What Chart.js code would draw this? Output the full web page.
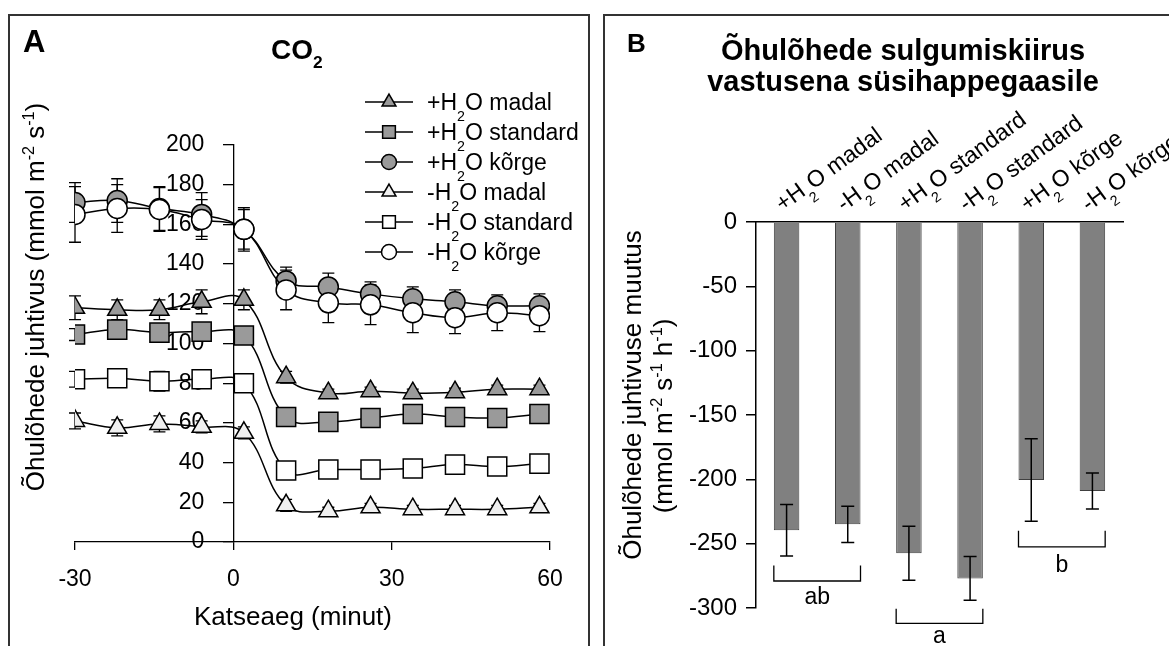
<!DOCTYPE html>
<html>
<head>
<meta charset="utf-8">
<title>Õhulõhede juhtivus</title>
<script src="https://cdn.jsdelivr.net/npm/chart.js@4.4.1/dist/chart.umd.min.js"></script>
<style>
  body { margin: 0; background: #fff; }
  #page { position: relative; width: 1169px; height: 646px; overflow: hidden; background: #fff; }
  canvas { position: absolute; top: 0; }
  .frame { position: absolute; border: 2px solid #333; border-bottom: none; pointer-events: none; }
</style>
</head>
<body>
<div id="page">
  <canvas id="panelA" width="598" height="646" style="left:0"></canvas>
  <canvas id="panelB" width="571" height="646" style="left:598px"></canvas>
  <div class="frame" style="left:8px;top:14px;width:578px;height:700px"></div>
  <div class="frame" style="left:603px;top:14px;width:700px;height:700px;border-right:none"></div>
</div>
<script>
// ---- panel A: conductance over time ----
const minutes = [-30, -22, -14, -6, 2, 10, 18, 26, 34, 42, 50, 58];
const seriesNames = ['+H2O madal', '+H2O standard', '+H2O kõrge', '-H2O madal', '-H2O standard', '-H2O kõrge'];

const plusLow = [118, 117, 117, 121, 122, 83, 75, 76, 75, 75.5, 77, 77];
const plusStd = [104.5, 107, 105.5, 106, 104, 63, 60.5, 62.5, 64.5, 63, 62.5, 64.5];
const plusHigh = [171, 172, 168, 165, 157.5, 131.5, 128.5, 125, 122.5, 121, 119, 119];
const minusLow = [61, 57.5, 59.5, 58, 55, 18.5, 15.5, 17.5, 16.5, 16.5, 16.5, 17.5];
const minusStd = [82, 82.5, 81, 82, 80, 36, 36.5, 36.5, 37, 39, 38, 39.5];
const minusHigh = [165, 168, 167.5, 162.5, 157.5, 127, 120.5, 119.5, 115.5, 113, 115.5, 114];

const plusLowErr = [6, 5, 5, 6, 5, 3, 2, 2, 2, 2, 2, 2];
const plusStdErr = [3, 3, 3, 3, 3, 2, 2, 2, 3, 2, 2, 2];
const plusHighErr = [10, 11, 11, 11, 11, 7, 7, 6, 6, 6, 4, 6];
const minusLowErr = [4, 4, 4, 3, 3, 3, 2, 2, 2, 2, 2, 2];
const minusStdErr = [4, 4, 5, 3, 3, 3, 1.5, 1.5, 2, 1.5, 2, 1.5];
const minusHighErr = [14, 12, 11, 10, 10, 10, 10, 10, 10, 8, 9, 8];

const seriesValues = [plusLow, plusStd, plusHigh, minusLow, minusStd, minusHigh];
const seriesErrors = [plusLowErr, plusStdErr, plusHighErr, minusLowErr, minusStdErr, minusHighErr];

// ---- panel B: closure rate ----
const treatments = ['+H2O madal', '-H2O madal', '+H2O standard', '-H2O standard', '+H2O kõrge', '-H2O kõrge'];
const rateChange = [-239.5, -235, -257.5, -277, -200.5, -209];
const rateErr = [20, 14, 21, 17, 32, 14];
// significance groups (bar index range + letter)
const groupLetter = ['ab', 'a', 'b'];
const groupFirst = [0, 2, 4];
const groupLast = [1, 3, 5];
const groupArmTop = [-267, -300.5, -240];
const groupBase = [-279, -312, -252.5];
const groupLetterAt = [-292, -322, -267];

// styles
const markerStyle = ['triangle', 'rect', 'circle', 'triangle', 'rect', 'circle'];
const markerFill = ['#9a9a9a', '#9a9a9a', '#9a9a9a', '#f0f0f0', '#ffffff', '#ffffff'];
const markerRadius = [11, 13.5, 10, 11, 13.5, 10];
const legendRadius = [8, 9, 7.5, 8, 9, 7.5];

const FAMILY = '"Liberation Sans", Arial, sans-serif';
Chart.defaults.font.family = FAMILY;
Chart.defaults.color = '#000';

const sub = s => s.replace('H2O', 'H_{2}O');

// text with _{sub} and ^{sup} pieces
function richText(ctx, str, x, y, o) {
  const weight = o.bold ? 'bold ' : '';
  const parts = [];
  str.replace(/([_^])\{([^}]*)\}|[^_^]+/g, (m, kind, inner) => {
    if (kind === '_') parts.push({t: inner, size: o.size * 0.62, dy: o.size * (o.drop || 0.45)});
    else if (kind === '^') parts.push({t: inner, size: o.size * 0.62, dy: -o.size * 0.4});
    else parts.push({t: m, size: o.size, dy: 0});
  });
  let total = 0;
  parts.forEach(p => {
    ctx.font = weight + p.size + 'px ' + FAMILY;
    p.w = ctx.measureText(p.t).width;
    total += p.w;
  });
  ctx.save();
  ctx.translate(x, y);
  if (o.rot) ctx.rotate(o.rot);
  ctx.fillStyle = '#000';
  ctx.textAlign = 'left';
  ctx.textBaseline = 'alphabetic';
  let cx = o.align === 'center' ? -total / 2 : 0;
  parts.forEach(p => {
    ctx.font = weight + p.size + 'px ' + FAMILY;
    ctx.fillText(p.t, cx, p.dy);
    cx += p.w;
  });
  ctx.restore();
}

function errorBar(ctx, px, top, bottom, cap) {
  ctx.beginPath();
  ctx.moveTo(px, top); ctx.lineTo(px, bottom);
  ctx.moveTo(px - cap, top); ctx.lineTo(px + cap, top);
  ctx.moveTo(px - cap, bottom); ctx.lineTo(px + cap, bottom);
  ctx.stroke();
}

const underlayA = {
  id: 'underlayA',
  beforeDatasetsDraw(chart) {
    const {ctx, scales: {x, y}} = chart;
    ctx.save();
    // y tick labels: the axis sits at x = 0, so place them off the axis by hand
    const x0 = x.getPixelForValue(0);
    ctx.font = '23px ' + FAMILY;
    ctx.fillStyle = '#000';
    ctx.textAlign = 'right';
    ctx.textBaseline = 'middle';
    y.ticks.forEach(t => ctx.fillText(t.label, x0 - 29, y.getPixelForValue(t.value)));

    ctx.strokeStyle = '#000';
    ctx.lineWidth = 1.3;
    seriesValues.forEach((vals, s) => {
      vals.forEach((v, i) => {
        const e = seriesErrors[s][i];
        errorBar(ctx, x.getPixelForValue(minutes[i]), y.getPixelForValue(v + e), y.getPixelForValue(v - e), 6);
      });
    });
    ctx.restore();
  }
};

const textA = {
  id: 'textA',
  afterDraw(chart) {
    const ctx = chart.ctx;
    richText(ctx, 'A', 23, 52, {size: 31, bold: true});
    richText(ctx, 'CO_{2}', 271, 59, {size: 28, bold: true, drop: 0.31});
    richText(ctx, 'Õhulõhede juhtivus (mmol m^{-2} s^{-1})', 44, 297, {size: 26, align: 'center', rot: -Math.PI / 2});
    richText(ctx, 'Katseaeg (minut)', 293, 625, {size: 26, align: 'center'});

    // legend: line with marker, then label
    seriesNames.forEach((name, s) => {
      const ly = 102 + s * 30;
      ctx.save();
      ctx.strokeStyle = '#000';
      ctx.lineWidth = 1.5;
      ctx.beginPath();
      ctx.moveTo(365, ly); ctx.lineTo(413, ly);
      ctx.stroke();
      ctx.fillStyle = markerFill[s];
      Chart.helpers.drawPoint(ctx, {pointStyle: markerStyle[s], radius: legendRadius[s], borderWidth: 1.5, rotation: 0}, 389, ly);
      ctx.restore();
      richText(ctx, sub(name), 427, ly + 8, {size: 23, drop: 0.48});
    });
  }
};

new Chart(document.getElementById('panelA'), {
  type: 'line',
  data: {
    datasets: seriesNames.map((name, s) => ({
      label: name,
      data: minutes.map((t, i) => ({x: t, y: seriesValues[s][i]})),
      borderColor: '#000',
      borderWidth: 1.5,
      tension: 0.4,
      pointStyle: markerStyle[s],
      pointRadius: markerRadius[s],
      pointBackgroundColor: markerFill[s],
      pointBorderColor: '#000',
      pointBorderWidth: 1.5,
      order: seriesNames.length - s
    }))
  },
  options: {
    responsive: false,
    animation: false,
    layout: {padding: {left: 75, right: 48, top: 145, bottom: 0}},
    plugins: {legend: {display: false}, tooltip: {enabled: false}},
    scales: {
      x: {
        type: 'linear',
        min: -30,
        max: 60,
        ticks: {stepSize: 30, font: {size: 23}, padding: 16, color: '#000'},
        grid: {drawOnChartArea: false, tickLength: 8, color: '#000', lineWidth: 1.3},
        border: {color: '#000', width: 1.3},
        afterFit: s => { s.height = 104; }
      },
      y: {
        min: 0,
        max: 200,
        position: {x: 0},
        ticks: {stepSize: 20, display: false},
        grid: {drawOnChartArea: false, tickLength: 10, color: '#000', lineWidth: 1.3},
        border: {color: '#000', width: 1.3}
      }
    }
  },
  plugins: [underlayA, textA]
});

const extrasB = {
  id: 'extrasB',
  afterDatasetsDraw(chart) {
    const {ctx, scales: {y}} = chart;
    const bars = chart.getDatasetMeta(0).data;
    ctx.save();
    ctx.strokeStyle = '#000';
    ctx.lineWidth = 1.5;
    rateChange.forEach((v, i) => {
      errorBar(ctx, bars[i].x, y.getPixelForValue(v + rateErr[i]), y.getPixelForValue(v - rateErr[i]), 6.5);
    });
    ctx.lineWidth = 1.3;
    ctx.fillStyle = '#000';
    ctx.font = '23px ' + FAMILY;
    ctx.textAlign = 'center';
    ctx.textBaseline = 'middle';
    groupLetter.forEach((letter, k) => {
      const a = bars[groupFirst[k]], b = bars[groupLast[k]];
      const left = a.x - a.width / 2, right = b.x + b.width / 2;
      const top = y.getPixelForValue(groupArmTop[k]), base = y.getPixelForValue(groupBase[k]);
      ctx.beginPath();
      ctx.moveTo(left, top); ctx.lineTo(left, base); ctx.lineTo(right, base); ctx.lineTo(right, top);
      ctx.stroke();
      ctx.fillText(letter, (left + right) / 2, y.getPixelForValue(groupLetterAt[k]));
    });
    ctx.restore();
  },
  afterDraw(chart) {
    const {ctx, scales: {x}, chartArea} = chart;
    richText(ctx, 'B', 29, 52, {size: 26, bold: true});
    richText(ctx, 'Õhulõhede sulgumiskiirus', 305, 60, {size: 29, bold: true, align: 'center'});
    richText(ctx, 'vastusena süsihappegaasile', 305, 91, {size: 29, bold: true, align: 'center'});
    richText(ctx, 'Õhulõhede juhtivuse muutus', 43, 395, {size: 26, align: 'center', rot: -Math.PI / 2});
    richText(ctx, '(mmol m^{-2} s^{-1} h^{-1})', 74, 416, {size: 26, align: 'center', rot: -Math.PI / 2});
    treatments.forEach((t, i) => {
      richText(ctx, sub(t), x.getPixelForValue(i) - 4, chartArea.top - 10, {size: 23, rot: -36 * Math.PI / 180, drop: 0.48});
    });
  }
};

new Chart(document.getElementById('panelB'), {
  type: 'bar',
  data: {
    labels: treatments,
    datasets: [{
      data: rateChange,
      backgroundColor: '#808080',
      borderColor: '#404040',
      borderWidth: 1,
      barPercentage: 0.417,
      categoryPercentage: 1
    }]
  },
  options: {
    responsive: false,
    animation: false,
    layout: {padding: {left: 0, right: 46, top: 222, bottom: 38}},
    plugins: {legend: {display: false}, tooltip: {enabled: false}},
    scales: {
      x: {
        position: 'top',
        ticks: {display: false},
        grid: {display: false, drawTicks: false},
        border: {color: '#000', width: 1.5},
        afterFit: s => { s.height = 0; }
      },
      y: {
        min: -300,
        max: 0,
        ticks: {stepSize: 50, font: {size: 24}, padding: 9, color: '#000'},
        grid: {drawOnChartArea: false, tickLength: 10, color: '#000', lineWidth: 1.5},
        border: {color: '#000', width: 1.5},
        afterFit: s => { s.width = 158; }
      }
    }
  },
  plugins: [extrasB]
});
</script>
</body>
</html>
